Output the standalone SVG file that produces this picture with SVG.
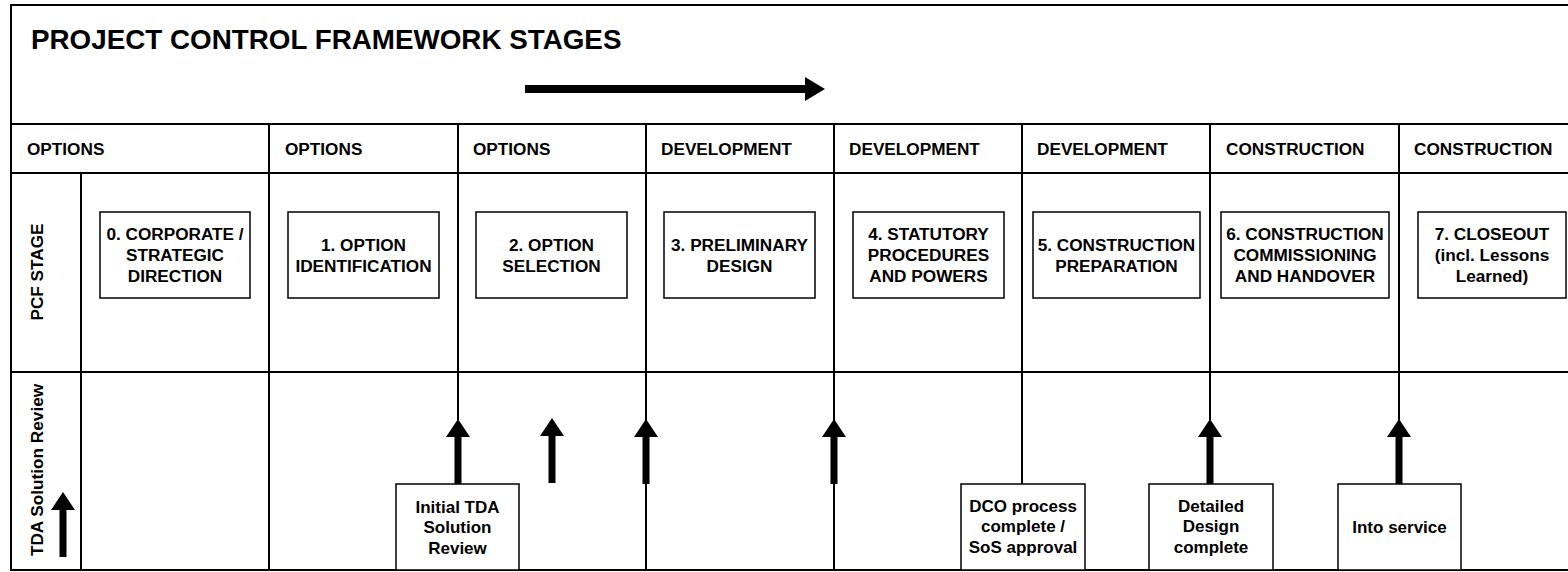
<svg xmlns="http://www.w3.org/2000/svg" width="1568" height="572" viewBox="0 0 1568 572">
<style>
.ln{stroke:#000;stroke-width:2;fill:none}
.bx{fill:#fff;stroke:#000;stroke-width:1.5}
.t{font-family:"Liberation Sans",Arial,sans-serif;font-weight:bold;fill:#000}
.hd{font-size:17.2px}
.bt{font-size:17.2px;text-anchor:middle}
.st{font-size:17px;text-anchor:middle}
</style>
<defs>
<path id="up" d="M0,0 L12,18 L3.5,18 L3.5,65 L-3.5,65 L-3.5,18 L-12,18 Z" fill="#000"/>
</defs>
<rect width="1568" height="572" fill="#fff"/>
<g id="grid">
<path class="ln" d="M1568,5 H11 V570 H1568 M11,124 H1568 M11,173 H1568 M11,372 H1568"/>
<path class="ln" d="M81,173 V570 M269,124 V570 M458,124 V420 M646,124 V570 M834,124 V570 M1022,124 V484 M1210,124 V420 M1399,124 V420"/>
</g>
<g id="title"><text class="t" x="31" y="49" font-size="27.8px">PROJECT CONTROL FRAMEWORK STAGES</text></g>
<g id="headers" class="t hd">
<text x="27" y="155">OPTIONS</text>
<text x="285" y="155">OPTIONS</text>
<text x="473" y="155">OPTIONS</text>
<text x="661" y="155">DEVELOPMENT</text>
<text x="849" y="155">DEVELOPMENT</text>
<text x="1037" y="155">DEVELOPMENT</text>
<text x="1226" y="155">CONSTRUCTION</text>
<text x="1414" y="155">CONSTRUCTION</text>
</g>
<g id="rowlabels" class="t" font-size="17.2px" text-anchor="middle">
<text transform="translate(43,272) rotate(-90)">PCF STAGE</text>
<text transform="translate(43,470) rotate(-90)">TDA Solution Review</text>
</g>
<g id="stage0"><rect class="bx" x="100" y="212" width="150" height="86"/><text class="t bt"><tspan x="175" y="240">0. CORPORATE /</tspan><tspan x="175" y="261">STRATEGIC</tspan><tspan x="175" y="282">DIRECTION</tspan></text></g>
<g id="stage1"><rect class="bx" x="288" y="212" width="151" height="86"/><text class="t bt"><tspan x="363.5" y="251">1. OPTION</tspan><tspan x="363.5" y="272">IDENTIFICATION</tspan></text></g>
<g id="stage2"><rect class="bx" x="476" y="212" width="151" height="86"/><text class="t bt"><tspan x="551.5" y="251">2. OPTION</tspan><tspan x="551.5" y="272">SELECTION</tspan></text></g>
<g id="stage3"><rect class="bx" x="664" y="212" width="151" height="86"/><text class="t bt"><tspan x="739.5" y="251">3. PRELIMINARY</tspan><tspan x="739.5" y="272">DESIGN</tspan></text></g>
<g id="stage4"><rect class="bx" x="853" y="212" width="151" height="86"/><text class="t bt"><tspan x="928.5" y="240">4. STATUTORY</tspan><tspan x="928.5" y="261">PROCEDURES</tspan><tspan x="928.5" y="282">AND POWERS</tspan></text></g>
<g id="stage5"><rect class="bx" x="1033" y="212" width="167" height="86"/><text class="t bt"><tspan x="1116.5" y="251">5. CONSTRUCTION</tspan><tspan x="1116.5" y="272">PREPARATION</tspan></text></g>
<g id="stage6"><rect class="bx" x="1221" y="212" width="168" height="86"/><text class="t bt"><tspan x="1305" y="240">6. CONSTRUCTION</tspan><tspan x="1305" y="261">COMMISSIONING</tspan><tspan x="1305" y="282">AND HANDOVER</tspan></text></g>
<g id="stage7"><rect class="bx" x="1418" y="212" width="148" height="86"/><text class="t bt"><tspan x="1492" y="240">7. CLOSEOUT</tspan><tspan x="1492" y="261">(incl. Lessons</tspan><tspan x="1492" y="282">Learned)</tspan></text></g>
<g id="connectors">
<path d="M525,85 H805 V77 L825,89 L805,101 V93 H525 Z" fill="#000"/>
<use href="#up" x="63" y="492"/>
<use href="#up" x="458" y="419"/>
<use href="#up" x="552" y="418"/>
<use href="#up" x="646" y="419"/>
<use href="#up" x="834" y="419"/>
<use href="#up" x="1210" y="419"/>
<use href="#up" x="1399" y="419"/>
</g>
<g id="m1"><rect class="bx" x="396" y="484" width="123" height="86"/><text class="t st"><tspan x="457.5" y="513">Initial TDA</tspan><tspan x="457.5" y="533">Solution</tspan><tspan x="457.5" y="554">Review</tspan></text></g>
<g id="m2"><rect class="bx" x="961" y="484" width="124" height="86"/><text class="t st"><tspan x="1023" y="512">DCO process</tspan><tspan x="1023" y="532">complete /</tspan><tspan x="1023" y="553">SoS approval</tspan></text></g>
<g id="m3"><rect class="bx" x="1149" y="484" width="124" height="86"/><text class="t st"><tspan x="1211" y="512">Detailed</tspan><tspan x="1211" y="532">Design</tspan><tspan x="1211" y="553">complete</tspan></text></g>
<g id="m4"><rect class="bx" x="1338" y="484" width="123" height="86"/><text class="t st"><tspan x="1399.5" y="533">Into service</tspan></text></g>
</svg>
